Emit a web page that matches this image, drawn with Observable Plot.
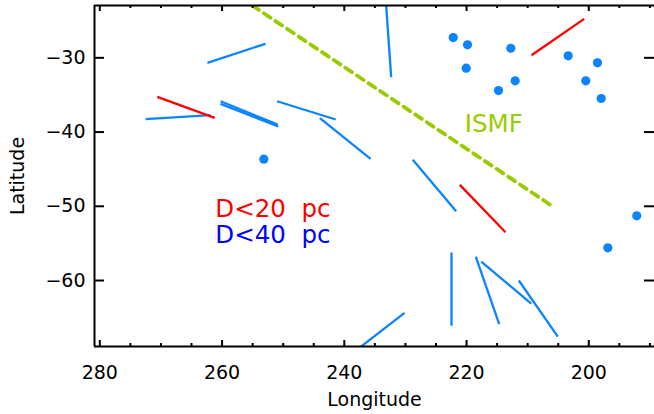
<!DOCTYPE html>
<html>
<head>
<meta charset="utf-8">
<script src="https://cdn.jsdelivr.net/npm/d3@7"></script>
<script src="https://cdn.jsdelivr.net/npm/@observablehq/plot@0.6"></script>
<style>
  html, body { margin: 0; padding: 0; background: #fff; }
  #chart svg { display: block; }
</style>
</head>
<body>
<div id="chart"></div>
<script>
// ---- data (longitude, latitude in degrees) ----
const xDomain = [280.87, 189.25];
const yDomain = [-68.89, -22.95];
const xMajorTicks = [280, 260, 240, 220, 200];
const xMinorTicks = [275, 270, 265, 255, 250, 245, 235, 230, 225, 215, 210, 205, 195, 190];
const yMajorTicks = [-30, -40, -50, -60];

// blue segments (D<40 pc): [lon1, lat1, lon2, lat2]
const blueSegments = [
  [262.4, -30.67, 252.9, -28.11],
  [272.5, -38.27, 261.9, -37.71],
  [260.25, -35.85, 250.9, -38.99],
  [260.25, -36.2, 250.8, -39.25],
  [251.0, -35.85, 241.4, -38.31],
  [244.0, -38.11, 235.7, -43.61],
  [233.19, -22.5, 232.33, -32.61],
  [228.8, -43.74, 221.7, -50.67],
  [222.46, -56.23, 222.46, -66.1],
  [218.49, -56.77, 214.66, -65.89],
  [217.6, -57.44, 209.42, -63.1],
  [211.45, -60.0, 205.07, -67.55],
  [238.2, -69.5, 230.15, -64.35]
];
// red segments (D<20 pc)
const redSegments = [
  [270.6, -35.25, 261.2, -38.08],
  [221.1, -47.11, 213.63, -53.49],
  [209.37, -29.65, 200.75, -24.75]
];
// blue dots
const dotLon = [222.18, 219.84, 220.06, 212.76, 212.04, 214.77, 203.37, 198.58, 200.49, 197.97, 192.15, 196.89, 253.17];
const dotLat = [-27.27, -28.25, -31.4, -28.71, -33.1, -34.41, -29.73, -30.67, -33.1, -35.48, -51.29, -55.6, -43.66];
// ISMF direction line
const ismfLon = [255.07, 205.99];
const ismfLat = [-22.95, -49.97];
// labels
const labelText = ["ISMF", "D<20\u00a0\u00a0pc", "D<40\u00a0\u00a0pc"];
const labelLon = [220.3, 261.1, 261.1];
const labelLat = [-40.02, -51.5, -54.95];
const labelColor = ["#99cc00", "#ff0000", "#0000ff"];

// ---- layout ----
const W = 654, H = 414, mL = 94, mR = 0, mT = 5, mB = 68;
const plotW = W - mL - mR, plotH = H - mT - mB;
const BLUE = "#0a84ff", RED = "#ff0000", GREEN = "#99cc00";
const FONT = "DejaVu Sans";

const dots = dotLon.map((d, i) => ({lon: d, lat: dotLat[i]}));
const ismf = ismfLon.map((d, i) => ({lon: d, lat: ismfLat[i]}));
const labels = labelText.map((t, i) => ({t, lon: labelLon[i], lat: labelLat[i], c: labelColor[i]}));
const seg = s => ({x1: s[0], y1: s[1], x2: s[2], y2: s[3]});

const chart = Plot.plot({
  width: W, height: H,
  marginLeft: mL, marginRight: mR, marginTop: mT, marginBottom: mB,
  style: {fontFamily: FONT, background: "white", color: "black"},
  x: {domain: xDomain, axis: null},
  y: {domain: yDomain, axis: null},
  marks: [
    Plot.link(blueSegments.map(seg), {x1: "x1", y1: "y1", x2: "x2", y2: "y2", stroke: BLUE, strokeWidth: 2.3, clip: true}),
    Plot.link(redSegments.map(seg), {x1: "x1", y1: "y1", x2: "x2", y2: "y2", stroke: RED, strokeWidth: 2.3, clip: true}),
    Plot.dot(dots, {x: "lon", y: "lat", r: 4.6, fill: BLUE, stroke: "none"}),
    Plot.line(ismf, {x: "lon", y: "lat", stroke: GREEN, strokeWidth: 3.8, strokeDasharray: "8,6", clip: true}),
    Plot.text(labels, {x: "lon", y: "lat", text: "t", fill: "c", fontSize: 24.5, textAnchor: "start", lineAnchor: "bottom"}),
    // frame (top, bottom, left)
    Plot.ruleY(yDomain, {stroke: "black", strokeWidth: 2}),
    Plot.ruleX([xDomain[0]], {stroke: "black", strokeWidth: 2}),
    // x ticks bottom & top
    Plot.tickX(xMajorTicks, {x: d => d, stroke: "black", strokeWidth: 2, insetTop: plotH - 6}),
    Plot.tickX(xMinorTicks, {x: d => d, stroke: "black", strokeWidth: 2, insetTop: plotH - 3}),
    Plot.tickX(xMajorTicks, {x: d => d, stroke: "black", strokeWidth: 2, insetBottom: plotH - 6}),
    Plot.tickX(xMinorTicks, {x: d => d, stroke: "black", strokeWidth: 2, insetBottom: plotH - 3}),
    // y ticks left & right
    Plot.tickY(yMajorTicks, {y: d => d, stroke: "black", strokeWidth: 2, insetRight: plotW - 10}),
    Plot.tickY(yMajorTicks, {y: d => d, stroke: "black", strokeWidth: 2, insetLeft: plotW - 10}),
    // tick labels
    Plot.text(xMajorTicks, {x: d => d, text: d => String(d), frameAnchor: "bottom", dy: 32, lineAnchor: "bottom", textAnchor: "middle", fontSize: 19, fill: "black"}),
    Plot.text(yMajorTicks, {y: d => d, text: d => "\u2212" + Math.abs(d), frameAnchor: "left", dx: -9, lineAnchor: "middle", textAnchor: "end", fontSize: 19, fill: "black"}),
    // axis titles
    Plot.text(["Longitude"], {text: d => d, frameAnchor: "bottom", dy: 59, lineAnchor: "bottom", textAnchor: "middle", fontSize: 19, fill: "black"}),
    Plot.text(["Latitude"], {text: d => d, frameAnchor: "left", dx: -70.5, rotate: -90, lineAnchor: "bottom", textAnchor: "middle", fontSize: 19, fill: "black"})
  ]
});
document.getElementById("chart").appendChild(chart);
</script>
</body>
</html>
